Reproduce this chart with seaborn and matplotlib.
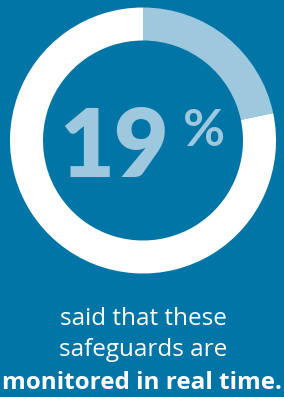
import matplotlib
matplotlib.use("Agg")
import matplotlib.pyplot as plt
import seaborn as sns

BG = "#0275a7"
LIGHT = "#9dc8dd"
WHITE = "#ffffff"

W, H = 284, 397

labels = ["monitored in real time", "other"]
shares = [21.7, 78.3]
big_number = "19"
big_unit = "%"
caption_lines = ["said that these", "safeguards are"]
caption_bold = "monitored in real time."

sns.set_theme(style="white")
plt.rcParams["font.family"] = ["Lato", "DejaVu Sans"]


def fx(px):
    return px / W


def fy(px):
    return 1 - px / H


fig = plt.figure(figsize=(W / 100, H / 100), dpi=100, facecolor=BG)

cx, cy, r = 143, 140.5, 133
ax = fig.add_axes([fx(cx - r), fy(cy + r), 2 * r / W, 2 * r / H])
ax.set_facecolor(BG)
ax.pie(
    shares,
    colors=[LIGHT, WHITE],
    startangle=90,
    counterclock=False,
    radius=1,
    wedgeprops=dict(width=33 / 133, linewidth=0),
)
ax.set_xlim(-1, 1)
ax.set_ylim(-1, 1)
ax.set_aspect("equal")
ax.axis("off")

fig.text(fx(114), fy(177), big_number, color=LIGHT, fontsize=68,
         fontweight="heavy", ha="center", va="baseline")
fig.text(fx(183), fy(146), big_unit, color=LIGHT, fontsize=37,
         fontweight="bold", ha="left", va="baseline")

cap_font = ["Open Sans", "DejaVu Sans"]
for i, line in enumerate(caption_lines):
    fig.text(fx(143), fy(325 + 31 * i), line, color=WHITE, fontsize=17.5,
             family=cap_font, fontweight="normal", ha="center", va="baseline")
fig.text(fx(142), fy(389), caption_bold, color=WHITE, fontsize=17.5,
         family=cap_font, fontweight="bold", ha="center", va="baseline")

fig.savefig("out.png", dpi=100, facecolor=BG)
